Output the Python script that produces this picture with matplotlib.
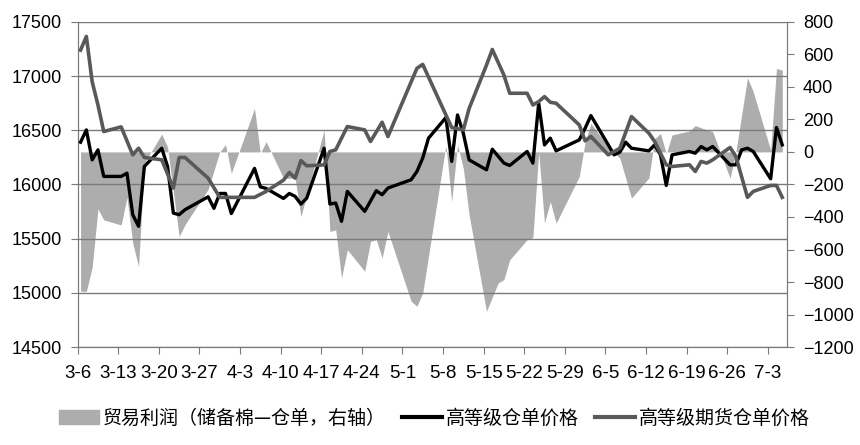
import matplotlib

matplotlib.use("Agg")
import matplotlib.pyplot as plt
import matplotlib.patches as mpatches
import matplotlib.lines as mlines
import pandas as pd

YEAR = 2017
START = pd.Timestamp(f"{YEAR}-03-06")

# 高等级期货仓单价格 (left axis)
fut_dates = ["3-6", "3-7", "3-8", "3-9", "3-10", "3-13", "3-15", "3-16", "3-17", "3-20",
             "3-22", "3-23", "3-24", "3-28", "3-30", "4-5", "4-7", "4-10", "4-11", "4-12",
             "4-13", "4-14", "4-17", "4-18", "4-19", "4-21", "4-24", "4-25", "4-27", "4-28",
             "5-3", "5-4", "5-8", "5-9", "5-11", "5-12", "5-15", "5-16", "5-18", "5-19",
             "5-22", "5-23", "5-24", "5-25", "5-26", "5-27", "5-31", "6-1", "6-2", "6-5",
             "6-7", "6-9", "6-12", "6-13", "6-15", "6-16", "6-19", "6-20", "6-21", "6-22",
             "6-23", "6-26", "6-27", "6-29", "6-30", "7-3", "7-4", "7-5"]
fut_vals = [17239, 17365, 16948, 16733, 16488, 16531, 16273, 16334, 16249, 16227,
            15967, 16249, 16249, 16058, 15881, 15881, 15936, 16040, 16110, 16058,
            16220, 16172, 16181, 16304, 16319, 16534, 16503, 16396, 16574, 16442,
            17071, 17107, 16641, 16525, 16503, 16700, 17101, 17245, 17009, 16841,
            16841, 16733, 16764, 16810, 16758, 16749, 16549, 16402, 16442, 16273,
            16334, 16626, 16473, 16396, 16181, 16166, 16181, 16120, 16212, 16197,
            16227, 16341, 16258, 15881, 15936, 15991, 15991, 15881]

# 高等级仓单价格 (left axis)
spot_dates = ["3-6", "3-7", "3-8", "3-9", "3-10", "3-13", "3-14", "3-15", "3-16", "3-17",
              "3-20", "3-21", "3-22", "3-23", "3-24", "3-28", "3-29", "3-30", "3-31", "4-1",
              "4-5", "4-6", "4-7", "4-10", "4-11", "4-12", "4-13", "4-14", "4-17", "4-18",
              "4-19", "4-20", "4-21", "4-24", "4-26", "4-27", "4-28", "5-2", "5-3", "5-4",
              "5-5", "5-8", "5-9", "5-10", "5-11", "5-12", "5-15", "5-16", "5-18", "5-19",
              "5-22", "5-23", "5-24", "5-25", "5-26", "5-27", "5-31", "6-1", "6-2", "6-5",
              "6-6", "6-7", "6-8", "6-9", "6-12", "6-13", "6-14", "6-15", "6-16", "6-19",
              "6-20", "6-21", "6-22", "6-23", "6-26", "6-27", "6-28", "6-29", "6-30", "7-3",
              "7-4", "7-5"]
spot_vals = [16390, 16503, 16227, 16319, 16074, 16074, 16104, 15721, 15614, 16166,
             16334, 16166, 15736, 15721, 15767, 15886, 15780, 15917, 15917, 15732,
             16148, 15978, 15963, 15871, 15917, 15890, 15819, 15874, 16334, 15819,
             15829, 15660, 15936, 15752, 15942, 15905, 15967, 16043, 16120, 16243,
             16427, 16617, 16212, 16641, 16473, 16227, 16135, 16325, 16197, 16175,
             16304, 16197, 16749, 16365, 16427, 16310, 16411, 16518, 16635, 16365,
             16273, 16298, 16390, 16334, 16310, 16365, 16273, 15991, 16273, 16304,
             16288, 16350, 16319, 16350, 16181, 16181, 16319, 16334, 16304, 16052,
             16525, 16365]

# 贸易利润（储备棉—仓单，右轴）
profit_dates = ["3-6", "3-7", "3-8", "3-9", "3-10", "3-13", "3-14", "3-15", "3-16", "3-17",
                "3-20", "3-21", "3-23", "3-24", "3-28", "3-30", "3-31", "4-1", "4-5", "4-6",
                "4-7", "4-10", "4-12", "4-13", "4-14", "4-17", "4-18", "4-19", "4-20", "4-21",
                "4-24", "4-25", "4-26", "4-27", "4-28", "5-2", "5-3", "5-4", "5-8", "5-9",
                "5-10", "5-11", "5-12", "5-15", "5-17", "5-18", "5-19", "5-22", "5-23", "5-24",
                "5-25", "5-26", "5-27", "5-31", "6-1", "6-2", "6-5", "6-7", "6-9", "6-12",
                "6-13", "6-14", "6-15", "6-16", "6-19", "6-20", "6-22", "6-23", "6-26", "6-27",
                "6-29", "6-30", "7-3", "7-4", "7-5"]
profit_vals = [-857, -857, -710, -350, -418, -449, -280, -560, -705, -70,
               110, 30, -520, -448, -230, 0, 45, -131, 268, -8,
               63, -162, -162, -397, -264, 135, -489, -479, -775, -601,
               -734, -550, -540, -652, -489, -918, -949, -867, 40, -305,
               43, -100, -387, -980, -806, -785, -663, -540, -526, 0,
               -438, -305, -438, -151, 60, 176, 33, -39, -284, -160,
               80, 114, -10, 104, 129, 162, 135, 125, -162, 0,
               456, 370, 10, 513, 503]

tick_labels = ["3-6", "3-13", "3-20", "3-27", "4-3", "4-10", "4-17", "4-24", "5-1",
               "5-8", "5-15", "5-22", "5-29", "6-5", "6-12", "6-19", "6-26", "7-3"]


def to_x(dates, shift=0.5):
    d = pd.to_datetime([f"{YEAR}-{s}" for s in dates])
    return (d - START).days.to_numpy() + shift


plt.rcParams["font.family"] = ["Liberation Sans", "DejaVu Sans"]

fig = plt.figure(figsize=(8.6, 4.45), dpi=100)
ax = fig.add_axes([0.0903, 0.220, 0.8247, 0.731])
ax2 = ax.twinx()

# area (right axis) behind the price lines
ax2.fill_between(to_x(profit_dates), 0, profit_vals, color="#adadad", lw=0)
ax2.set_ylim(-1200, 800)
ax2.set_yticks(range(-1200, 801, 200))

ax.set_zorder(ax2.get_zorder() + 1)
ax.patch.set_visible(False)

ax.plot(to_x(spot_dates), spot_vals, color="black", lw=2.4, zorder=3)
ax.plot(to_x(fut_dates), fut_vals, color="#595959", lw=2.6, zorder=4)

ax.set_ylim(14500, 17500)
ax.set_yticks(range(14500, 17501, 500))
ax.grid(axis="y", color="#7a7a7a", lw=1)
ax.set_xlim(0, 122.3)
ax.set_xticks(to_x(tick_labels, 0))
ax.set_xticklabels(tick_labels)

for a in (ax, ax2):
    a.spines["top"].set_visible(False)
    for s in ("left", "right", "bottom"):
        a.spines[s].set_color("#7a7a7a")
ax.tick_params(axis="both", colors="#7a7a7a", labelcolor="black", length=5,
               labelsize=13)
ax.tick_params(axis="y", pad=6.5)
ax.tick_params(axis="x", labelsize=13.5, pad=8)
ax2.tick_params(axis="y", colors="#7a7a7a", labelcolor="black", length=5,
                labelsize=13, pad=6.5)

handles = [
    mpatches.Patch(color="#adadad", label="贸易利润（储备棉—仓单，右轴）"),
    mlines.Line2D([], [], color="black", lw=3, label="高等级仓单价格"),
    mlines.Line2D([], [], color="#595959", lw=3, label="高等级期货仓单价格"),
]
fig.legend(handles=handles, loc="center", bbox_to_anchor=(0.505, 0.06), ncol=3,
           frameon=False, handlelength=2.1, handletextpad=0.2, columnspacing=0.85,
           prop={"family": ["Noto Sans CJK SC", "DejaVu Sans"], "size": 13.7})

fig.savefig("out.png", dpi=100)
